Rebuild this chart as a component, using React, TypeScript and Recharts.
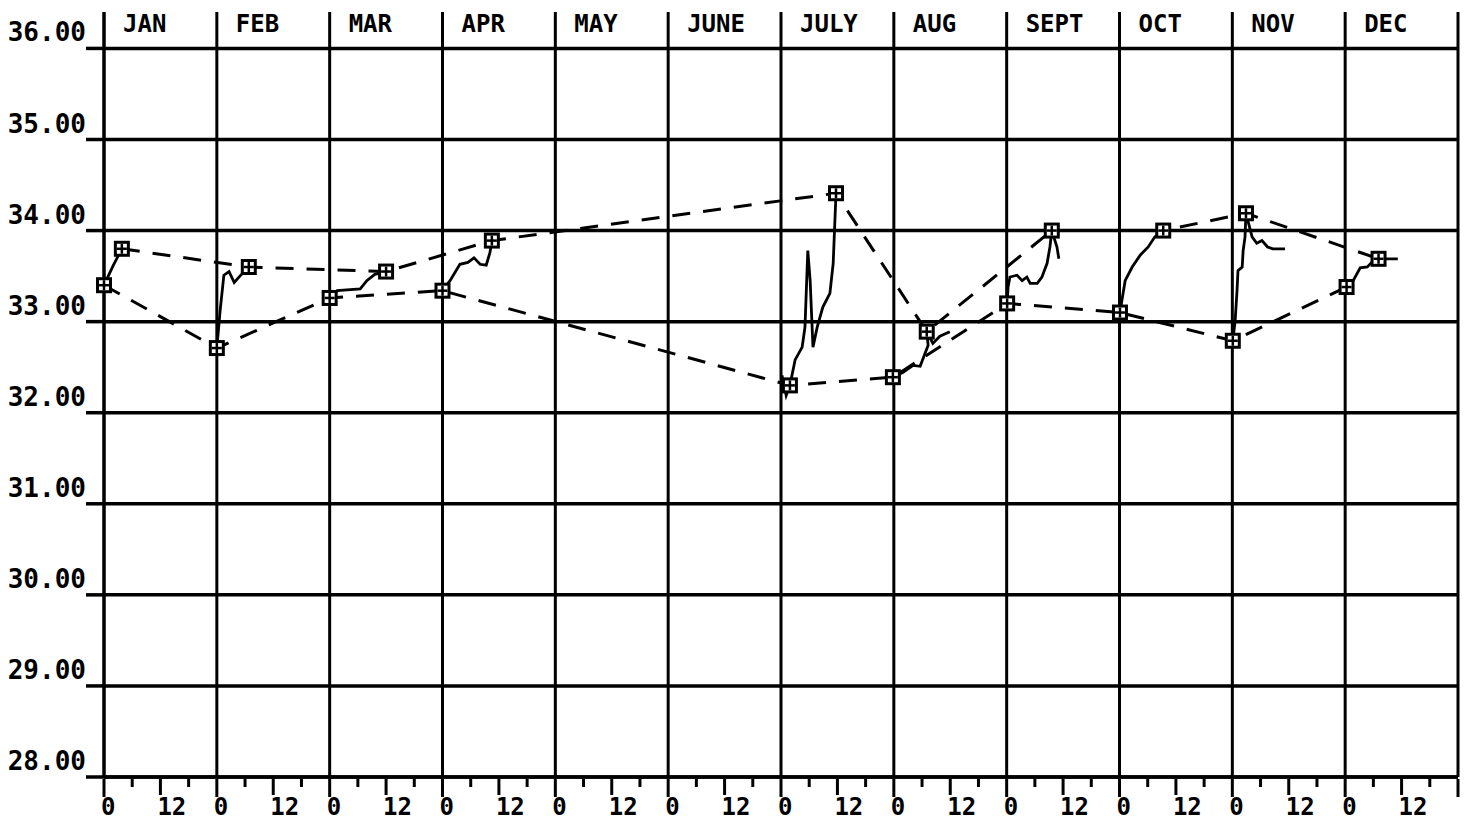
import { LineChart, Line, XAxis, YAxis, ReferenceLine } from 'recharts';

const months = ['JAN', 'FEB', 'MAR', 'APR', 'MAY', 'JUNE', 'JULY', 'AUG', 'SEPT', 'OCT', 'NOV', 'DEC'];
const yTicks = [28, 29, 30, 31, 32, 33, 34, 35, 36];

// first reading of each month (lower dashed run)
const startDay = [0, 24, 48, 72, 145.9, 167.8, 192.1, 216.1, 240.1, 264.3];
const startValue = [33.4, 32.71, 33.26, 33.34, 32.3, 32.39, 33.2, 33.1, 32.79, 33.38];

// last reading of each month (upper dashed run)
const endDay = [3.8, 30.8, 60.0, 82.5, 155.7, 175.0, 201.6, 225.3, 242.9, 271.1];
const endValue = [33.8, 33.6, 33.55, 33.89, 34.41, 32.89, 34.0, 34.0, 34.19, 33.69];

// continuous records between the two
const traceDays = [
  [0, 2.0, 3.8],
  [24, 24.7, 25.5, 26.6, 27.7, 28.9, 30.8],
  [48, 49.6, 54.5, 55.9, 57.6, 60.0],
  [72, 73.6, 75.7, 77.4, 78.7, 80.0, 81.3, 82.1, 82.5],
  [144.2, 145.1, 145.9, 147.0, 148.5, 149.1, 149.7, 150.2, 150.8, 151.7, 152.9, 154.4, 155.1, 155.7],
  [167.8, 169.9, 172.1, 173.6, 174.4, 175.3, 175.0, 176.3, 177.8, 179.9],
  [192.1, 192.3, 192.7, 194.2, 195.3, 196.3, 197.0, 198.5, 199.5, 200.6, 201.2, 201.6, 202.7, 203.1],
  [216.1, 216.5, 217.2, 218.7, 220.4, 222.1, 223.5, 225.3],
  [240.1, 240.6, 241.0, 241.2, 242.1, 242.3, 242.7, 242.9, 244.2, 245.2, 246.3, 247.5, 248.6, 251.2],
  [264.3, 265.7, 267.2, 268.7, 270.0, 271.1, 275.2],
];
const traceValues = [
  [33.4, 33.62, 33.8],
  [32.71, 33.12, 33.51, 33.55, 33.43, 33.5, 33.6],
  [33.26, 33.34, 33.36, 33.45, 33.52, 33.55],
  [33.34, 33.45, 33.63, 33.65, 33.7, 33.63, 33.62, 33.76, 33.89],
  [32.41, 32.19, 32.3, 32.58, 32.72, 32.94, 33.78, 33.45, 32.72, 32.94, 33.16, 33.31, 33.64, 34.41],
  [32.39, 32.44, 32.52, 32.51, 32.62, 32.74, 32.89, 32.76, 32.84, 32.89],
  [33.2, 33.38, 33.49, 33.51, 33.45, 33.49, 33.42, 33.42, 33.49, 33.64, 33.82, 34.0, 33.82, 33.69],
  [33.1, 33.23, 33.45, 33.6, 33.73, 33.82, 33.93, 34.0],
  [32.79, 33.01, 33.34, 33.56, 33.6, 33.78, 33.93, 34.19, 33.93, 33.86, 33.89, 33.82, 33.8, 33.8],
  [33.38, 33.45, 33.59, 33.6, 33.67, 33.69, 33.69],
];

const DAYS = 24;
const monthEdges = [...months.map((_, i) => i * DAYS), months.length * DAYS];
const xTicks = Array.from({ length: months.length * 4 + 1 }, (_, i) => i * 6);

const FONT = '"DejaVu Sans Mono", monospace';

const startData = startDay.map((day, i) => ({ day, value: startValue[i] }));
const endData = endDay.map((day, i) => ({ day, value: endValue[i] }));
const traces = traceDays.map((days, t) => days.map((day, i) => ({ day, value: traceValues[t][i] })));

function BoxDot(props: any) {
  const { cx, cy, index } = props;
  if (cx == null || cy == null) return null;
  return (
    <g key={`box-${index}-${cx}`}>
      <rect x={cx - 6.5} y={cy - 6.5} width={13} height={13} fill="#fff" stroke="#000" strokeWidth={3} />
      <line x1={cx} y1={cy - 5} x2={cx} y2={cy + 5} stroke="#000" strokeWidth={2.5} />
      <line x1={cx - 5} y1={cy} x2={cx + 5} y2={cy} stroke="#000" strokeWidth={2.5} />
    </g>
  );
}

function XTick({ x, y, payload }: any) {
  const v = payload.value;
  const len = v % DAYS === 0 ? 18 : v % 12 === 0 ? 16 : 8;
  const showLabel = v % 12 === 0 && v < months.length * DAYS;
  return (
    <g>
      <line x1={x} y1={y} x2={x} y2={y + len} stroke="#000" strokeWidth={3} />
      {showLabel && (
        <text x={x - 3} y={815} textAnchor="start" fontFamily={FONT} fontWeight="bold" fontSize={24} fill="#000">
          {v % DAYS}
        </text>
      )}
    </g>
  );
}

function YTick({ y, payload }: any) {
  return (
    <text x={86} y={y - 7} textAnchor="end" fontFamily={FONT} fontWeight="bold" fontSize={26} fill="#000">
      {payload.value.toFixed(2)}
    </text>
  );
}

export default function App() {
  return (
    <div style={{ position: 'absolute', left: 0, top: 0, background: '#fff' }}>
      <LineChart width={1468} height={823} margin={{ top: 12, right: 10, bottom: 0, left: 0 }}>
        <XAxis
          dataKey="day"
          type="number"
          domain={[0, months.length * DAYS]}
          ticks={xTicks}
          interval={0}
          height={46}
          tickSize={0}
          tickLine={false}
          tick={<XTick />}
          axisLine={{ stroke: '#000', strokeWidth: 3.5 }}
        />
        <YAxis
          type="number"
          domain={[28, 36.4]}
          ticks={yTicks}
          interval={0}
          width={104}
          tickSize={18}
          tickLine={{ stroke: '#000', strokeWidth: 3.5 }}
          tick={<YTick />}
          axisLine={{ stroke: '#000', strokeWidth: 3 }}
        />
        {yTicks.map((t) => (
          <ReferenceLine key={`h-${t}`} y={t} stroke="#000" strokeWidth={3.5} />
        ))}
        {monthEdges.map((edge, i) => (
          <ReferenceLine
            key={edge}
            x={edge}
            stroke="#000"
            strokeWidth={3}
            label={
              i < months.length
                ? (p: any) => (
                    <text
                      x={p.viewBox.x + 19}
                      y={32}
                      textAnchor="start"
                      fontFamily={FONT}
                      fontWeight="bold"
                      fontSize={24}
                      fill="#000"
                    >
                      {months[i]}
                    </text>
                  )
                : undefined
            }
          />
        ))}
        {traces.map((trace, i) => (
          <Line
            key={`trace-${i}`}
            data={trace}
            dataKey="value"
            type="linear"
            stroke="#000"
            strokeWidth={2.8}
            dot={false}
            activeDot={false}
            isAnimationActive={false}
          />
        ))}
        <Line
          data={startData}
          dataKey="value"
          type="linear"
          stroke="#000"
          strokeWidth={3}
          strokeDasharray="18 13"
          dot={BoxDot}
          activeDot={false}
          isAnimationActive={false}
        />
        <Line
          data={endData}
          dataKey="value"
          type="linear"
          stroke="#000"
          strokeWidth={3}
          strokeDasharray="18 13"
          dot={BoxDot}
          activeDot={false}
          isAnimationActive={false}
        />
      </LineChart>
    </div>
  );
}
